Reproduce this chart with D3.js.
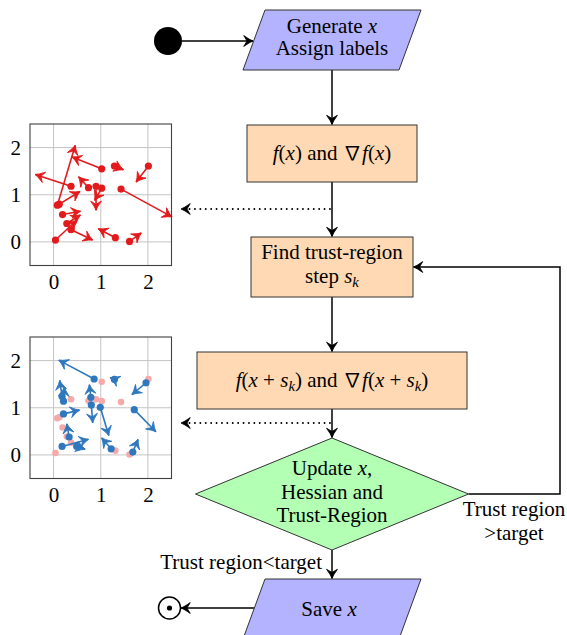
<!DOCTYPE html>
<html><head><meta charset="utf-8">
<script src="https://cdn.jsdelivr.net/npm/d3@7/dist/d3.min.js"></script>
<style>
html,body{margin:0;padding:0;background:#fff;}
svg text{font-family:"Liberation Serif","Times New Roman",serif;}
</style></head>
<body><svg id="c" width="567" height="635"></svg>
<script>
// ---------- data ----------
const axisTicks = [0, 1, 2];
const axisLabels = ["0", "1", "2"];
// red: current points (start) and their gradient arrows (end)
const redStartX = [1.02, 1.29, 2.01, 0.37, 0.74, 0.90, 1.02, 0.08, 0.12, 1.43, 0.19, 0.28, 0.37, 0.04, 1.31, 1.61];
const redStartY = [1.55, 1.61, 1.61, 1.18, 1.15, 1.18, 1.14, 0.78, 0.80, 1.12, 0.58, 0.39, 0.26, 0.04, 0.09, 0.01];
const redEndX   = [0.39, 1.48, 1.75, -0.39, 0.53, 0.90, 0.87, 0.46, 0.56, 2.51, 0.57, 0.57, 0.83, 0.49, 0.95, 1.86];
const redEndY   = [1.80, 1.53, 1.27, 1.43, 1.38, 0.67, 0.88, 2.05, 1.07, 0.53, 0.65, 0.57, 0.04, 0.46, 0.28, 0.19];
// blue: updated points and arrows
const blueStartX = [0.86, 1.29, 1.96, 0.18, 0.21, 0.79, 0.80, 0.99, 0.21, 1.71, 0.33, 0.18, 0.49, 1.22, 1.68];
const blueStartY = [1.61, 1.60, 1.53, 1.24, 1.14, 1.22, 1.06, 1.01, 0.87, 0.96, 0.38, 0.18, 0.18, 0.13, 0.06];
const blueEndX   = [0.11, 1.20, 1.66, 0.13, 0.23, 0.76, 0.83, 1.17, 0.55, 2.17, 0.28, 0.74, 0.67, 1.02, 1.79];
const blueEndY   = [2.01, 1.64, 1.28, 1.58, 1.44, 1.49, 0.68, 0.41, 0.95, 0.49, 0.66, 0.33, 0.12, 0.36, 0.33];

// flowchart labels (segments: [text, style]  style: "" roman, "i" math italic, "sub" subscript italic, "op" operator symbol)
const labelGenerate = [[["Generate ", ""], ["x", "i"]], [["Assign labels", ""]]];
const labelF = [[["f", "i"], ["(", ""], ["x", "i"], [")", ""], [" and ", ""], ["∇", "op"], ["f", "i"], ["(", ""], ["x", "i"], [")", ""]]];
const labelFind = [[["Find trust-region", ""]], [["step ", ""], ["s", "i"], ["k", "sub"]]];
const labelFxs = [[["f", "i"], ["(", ""], ["x", "i"], [" + ", ""], ["s", "i"], ["k", "sub"], [")", ""], [" and ", ""], ["∇", "op"], ["f", "i"], ["(", ""], ["x", "i"], [" + ", ""], ["s", "i"], ["k", "sub"], [")", ""]]];
const labelUpdate = [[["Update ", ""], ["x", "i"], [",", ""]], [["Hessian and", ""]], [["Trust-Region", ""]]];
const labelSave = [[["Save ", ""], ["x", "i"]]];
const labelYes = [[["Trust region", ""]], [[">target", ""]]];
const labelNo = [[["Trust region<target", ""]]];

// ---------- drawing ----------
const svg = d3.select("#c");
const FS = 21;
const defs = svg.append("defs");
function mk(id, color, path, w, h) {
  defs.append("marker").attr("id", id).attr("viewBox", "-10 -6 12 12")
    .attr("refX", 0).attr("refY", 0).attr("markerWidth", w).attr("markerHeight", h)
    .attr("markerUnits", "userSpaceOnUse").attr("orient", "auto")
    .append("path").attr("d", path).attr("fill", color).attr("stroke", color)
    .attr("stroke-width", 0.8).attr("stroke-linejoin", "round");
}
const stealth = "M-8.5,-5 Q-3,-1 0,0 Q-3,1 -8.5,5 L-5.5,0 Z";
mk("ar", "#e31a1c", stealth, 13, 13);
mk("ab", "#2f78bd", stealth, 13, 13);
mk("ak", "#000", stealth, 13, 13);

function richText(sel, lines, cx, yBase, lh, anchor) {
  lines.forEach((segs, li) => {
    const t = sel.append("text").attr("x", cx).attr("y", yBase + li * lh)
      .attr("text-anchor", anchor || "middle").attr("font-size", FS).attr("fill", "#000");
    let sub = false;
    segs.forEach(([s, st]) => {
      const ts = t.append("tspan").text(s);
      if (st === "i") ts.attr("font-style", "italic");
      if (st === "op") ts.style("font-family", "'Noto Sans CJK JP','DejaVu Serif',serif").attr("font-size", FS * 0.92);
      if (st === "sub") {
        ts.attr("font-style", "italic").attr("font-size", FS * 0.7).attr("dy", 4);
        sub = true;
      } else if (sub) {
        ts.attr("dy", -4); sub = false;
      }
    });
  });
}

// ---------- scatter panels ----------
function panel(top, starts, ends, color, marker, ghost) {
  const x = d3.scaleLinear().domain([-0.5, 2.5]).range([30, 171.5]);
  const y = d3.scaleLinear().domain([-0.5, 2.5]).range([top + 141.5, top]);
  const g = svg.append("g");
  g.append("rect").attr("x", 30).attr("y", top).attr("width", 141.5).attr("height", 141.5).attr("fill", "#fff");
  g.selectAll(".gx").data(axisTicks).join("line")
    .attr("x1", d => x(d)).attr("x2", d => x(d)).attr("y1", top).attr("y2", top + 141.5)
    .attr("stroke", "#c4c4c4").attr("stroke-width", 1);
  g.selectAll(".gy").data(axisTicks).join("line")
    .attr("y1", d => y(d)).attr("y2", d => y(d)).attr("x1", 30).attr("x2", 171.5)
    .attr("stroke", "#c4c4c4").attr("stroke-width", 1);
  const ax = d3.axisBottom(x).tickValues(axisTicks).tickFormat((d, i) => axisLabels[i]).tickSize(0).tickPadding(9);
  const ay = d3.axisLeft(y).tickValues(axisTicks).tickFormat((d, i) => axisLabels[i]).tickSize(0).tickPadding(9);
  const gax = g.append("g").attr("transform", `translate(0,${top + 141.5})`).call(ax);
  const gay = g.append("g").attr("transform", `translate(30,0)`).call(ay);
  [gax, gay].forEach(a => {
    a.select(".domain").remove();
    a.selectAll("text").attr("font-family", "Liberation Serif").attr("font-size", FS).attr("fill", "#000");
  });
  if (ghost) {
    g.selectAll(".ghost").data(ghost.X.map((v, i) => [v, ghost.Y[i]])).join("circle")
      .attr("cx", d => x(d[0])).attr("cy", d => y(d[1])).attr("r", 3.3).attr("fill", "#f6a9a9");
  }
  const pts = starts.X.map((v, i) => ({ x0: v, y0: starts.Y[i], x1: ends.X[i], y1: ends.Y[i] }));
  g.selectAll(".arr").data(pts).join("line")
    .attr("x1", d => x(d.x0)).attr("y1", d => y(d.y0)).attr("x2", d => x(d.x1)).attr("y2", d => y(d.y1))
    .attr("stroke", color).attr("stroke-width", 1.6).attr("marker-end", `url(#${marker})`);
  g.selectAll(".dot").data(pts).join("circle")
    .attr("cx", d => x(d.x0)).attr("cy", d => y(d.y0)).attr("r", 3.6).attr("fill", color);
  g.append("rect").attr("x", 30).attr("y", top).attr("width", 141.5).attr("height", 141.5)
    .attr("fill", "none").attr("stroke", "#404040").attr("stroke-width", 1.1);
}
panel(124, { X: redStartX, Y: redStartY }, { X: redEndX, Y: redEndY }, "#e31a1c", "ar", null);
panel(337, { X: blueStartX, Y: blueStartY }, { X: blueEndX, Y: blueEndY }, "#2f78bd", "ab", { X: redStartX, Y: redStartY });

// ---------- flowchart ----------
const fc = svg.append("g");
const edge = (pts, dotted) => fc.append("path").attr("d", d3.line()(pts)).attr("fill", "none")
  .attr("stroke", "#000").attr("stroke-width", dotted ? 1.8 : 1.5)
  .attr("stroke-dasharray", dotted ? "0.1,5.3" : null).attr("stroke-linecap", dotted ? "round" : "butt")
  .attr("marker-end", "url(#ak)");
const CX = 332;
function para(cy, w, h, sk, fill) {
  const t = cy - h / 2, b = cy + h / 2;
  fc.append("polygon").attr("points", [[CX - w / 2 + sk / 2, t], [CX + w / 2 + sk / 2, t], [CX + w / 2 - sk / 2, b], [CX - w / 2 - sk / 2, b]].join(" "))
    .attr("fill", fill).attr("stroke", "#333").attr("stroke-width", 1);
}
function box(x0, y0, x1, y1) {
  fc.append("rect").attr("x", x0).attr("y", y0).attr("width", x1 - x0).attr("height", y1 - y0)
    .attr("fill", "#ffd9b3").attr("stroke", "#333").attr("stroke-width", 1);
}
edge([[182, 41], [253, 41]]);
edge([[CX, 70], [CX, 124.5]]);
edge([[CX, 182], [CX, 236.5]]);
edge([[CX, 297], [CX, 351.5]]);
edge([[CX, 409], [CX, 437.5]]);
edge([[CX, 550], [CX, 578.5]]);
edge([[468.5, 494], [560, 494], [560, 267], [413.5, 267]]);
edge([[254, 608], [181, 608]]);
edge([[330, 209], [181, 209]], true);
edge([[330, 423], [181, 423]], true);

fc.append("circle").attr("cx", 168).attr("cy", 41).attr("r", 14).attr("fill", "#000");
fc.append("circle").attr("cx", 169.5).attr("cy", 608).attr("r", 11).attr("fill", "#fff").attr("stroke", "#000").attr("stroke-width", 1.5);
fc.append("circle").attr("cx", 169.5).attr("cy", 608).attr("r", 2.6).attr("fill", "#000");

para(40, 156, 60, 22, "#b3b3ff");
box(247, 125, 417, 182);
box(251, 237, 413, 297);
box(197, 352, 467, 409);
fc.append("polygon").attr("points", [[CX, 438], [468.5, 494], [CX, 550], [195.5, 494]].join(" "))
  .attr("fill", "#b3ffb3").attr("stroke", "#333").attr("stroke-width", 1);
para(609, 156, 60, 22, "#b3b3ff");

richText(fc, labelGenerate, CX, 33, 22);
richText(fc, labelF, CX, 160, 22);
richText(fc, labelFind, CX, 259, 24);
richText(fc, labelFxs, CX, 387, 22);
richText(fc, labelUpdate, CX, 475, 23.5);
richText(fc, labelSave, 329, 616, 22);
richText(fc, labelYes, 514, 516, 24);
richText(fc, labelNo, 322, 569, 22, "end");
</script></body></html>
